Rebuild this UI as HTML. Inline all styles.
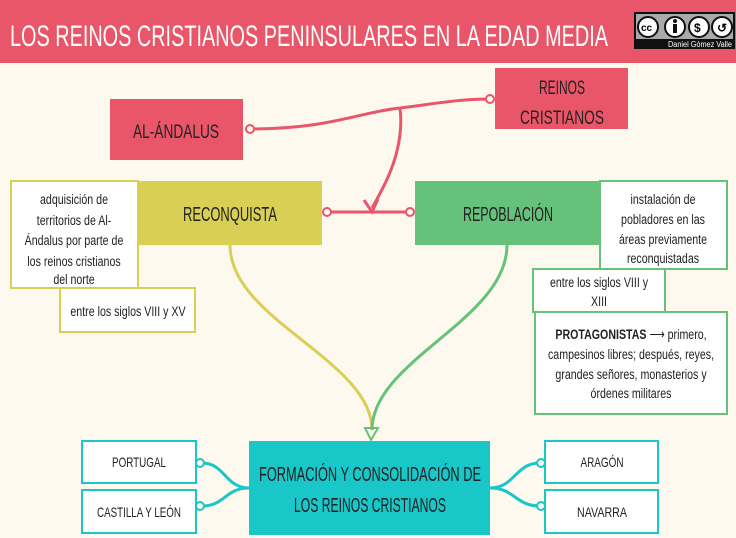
<!DOCTYPE html>
<html><head><meta charset="utf-8"><style>
body{margin:0;background:#fdf9ee}
svg{display:block}
text{font-family:"Liberation Sans Narrow","Liberation Sans",sans-serif}
</style></head><body>
<svg width="736" height="538" viewBox="0 0 736 538" xmlns="http://www.w3.org/2000/svg">
<rect width="736" height="538" fill="#fdf9ee"/>
<rect width="736" height="63" fill="#ea5669"/>
<text x="10" y="46" fill="#fff" font-size="30" textLength="598" lengthAdjust="spacingAndGlyphs">LOS REINOS CRISTIANOS PENINSULARES EN LA EDAD MEDIA</text>
<rect x="634" y="12" width="101" height="37" fill="#111"/>
<rect x="636" y="14" width="97" height="25" fill="#aaa"/>
<circle cx="648" cy="27" r="10" fill="#fff" stroke="#111" stroke-width="2"/><text x="641" y="31" font-size="10" font-weight="bold">cc</text>
<circle cx="675" cy="27" r="10" fill="#fff" stroke="#111" stroke-width="2"/><circle cx="675" cy="21" r="2" fill="#111"/><rect x="673" y="24" width="4" height="9" fill="#111"/>
<circle cx="699" cy="27" r="10" fill="#fff" stroke="#111" stroke-width="2"/><text x="694" y="32" font-size="12" font-weight="bold">$</text>
<circle cx="722" cy="27" r="10" fill="#fff" stroke="#111" stroke-width="2"/><text x="717" y="32" font-size="12" font-weight="bold">↺</text>
<text x="668" y="47" fill="#fff" font-size="8" textLength="64" lengthAdjust="spacingAndGlyphs">Daniel Gómez Valle</text>

<g fill="none" stroke-width="3">
<path d="M249 129 C330 129 360 112 400 108 C440 103 460 99 490 99" stroke="#ea5669"/>
<path d="M400 108 C405 150 385 185 372 208" stroke="#ea5669"/>
<path d="M327 212 H410" stroke="#ea5669"/>
<path d="M230 245 C230 320 372 360 372 430" stroke="#d9cf55"/>
<path d="M507 245 C507 320 372 360 372 430" stroke="#66c27a"/>
<path d="M202 463 C225 463 225 488 249 488 M202 506 C225 506 225 488 249 488" stroke="#19c6c8"/>
<path d="M540 463 C515 463 515 488 490 488 M540 506 C515 506 515 488 490 488" stroke="#19c6c8"/>
</g>
<path d="M364 200 L372 212 L378 199" fill="none" stroke="#ea5669" stroke-width="3"/>
<path d="M365 428 L378 428 L371 440 Z" fill="none" stroke="#66c27a" stroke-width="2"/>
<g fill="#fdf9ee" stroke-width="2">
<circle cx="250" cy="129" r="4" stroke="#ea5669"/><circle cx="490" cy="99" r="4" stroke="#ea5669"/>
<circle cx="327" cy="212" r="4" stroke="#ea5669"/><circle cx="410" cy="212" r="4" stroke="#ea5669"/>
<circle cx="200" cy="463" r="4" stroke="#19c6c8"/><circle cx="200" cy="506" r="4" stroke="#19c6c8"/>
<circle cx="541" cy="463" r="4" stroke="#19c6c8"/><circle cx="541" cy="506" r="4" stroke="#19c6c8"/>
</g>

<rect x="110" y="99" width="133" height="61" fill="#ea5669"/>
<text x="176" y="138" font-size="19" text-anchor="middle" fill="#222" textLength="86" lengthAdjust="spacingAndGlyphs">AL-ÁNDALUS</text>
<rect x="495" y="68" width="133" height="61" fill="#ea5669"/>
<text x="562" y="94" font-size="19" text-anchor="middle" fill="#222" textLength="46" lengthAdjust="spacingAndGlyphs">REINOS</text>
<text x="562" y="124" font-size="19" text-anchor="middle" fill="#222" textLength="84" lengthAdjust="spacingAndGlyphs">CRISTIANOS</text>

<rect x="138" y="181" width="184" height="64" fill="#d9cf55"/>
<text x="230" y="221" font-size="20" text-anchor="middle" fill="#222" textLength="94" lengthAdjust="spacingAndGlyphs">RECONQUISTA</text>
<rect x="415" y="181" width="185" height="64" fill="#66c27a"/>
<text x="508" y="221" font-size="20" text-anchor="middle" fill="#222" textLength="90" lengthAdjust="spacingAndGlyphs">REPOBLACIÓN</text>

<g fill="#fff" stroke-width="2">
<rect x="11" y="181" width="127" height="107" stroke="#d9cf55"/>
<rect x="60" y="288" width="135" height="44" stroke="#d9cf55"/>
<rect x="600" y="181" width="127" height="88" stroke="#66c27a"/>
<rect x="533" y="269" width="132" height="43" stroke="#66c27a"/>
<rect x="535" y="312" width="192" height="102" stroke="#66c27a"/>
<rect x="82" y="441" width="114" height="42" stroke="#19c6c8"/>
<rect x="82" y="490" width="114" height="43" stroke="#19c6c8"/>
<rect x="545" y="441" width="113" height="42" stroke="#19c6c8"/>
<rect x="545" y="490" width="113" height="43" stroke="#19c6c8"/>
</g>

<g font-size="14" fill="#222" text-anchor="middle">
<g transform="translate(74,0) scale(0.76,1)">
<text x="0" y="204">adquisición de</text>
<text x="0" y="225">territorios de Al-</text>
<text x="0" y="245">Ándalus por parte de</text>
<text x="0" y="266">los reinos cristianos</text>
<text x="0" y="286" dy="-2">del norte</text>
</g>
<g transform="translate(128,0) scale(0.76,1)"><text x="0" y="316">entre los siglos VIII y XV</text></g>
<g transform="translate(663,0) scale(0.76,1)">
<text x="0" y="204">instalación de</text>
<text x="0" y="224">pobladores en las</text>
<text x="0" y="244">áreas previamente</text>
<text x="0" y="263">reconquistadas</text>
</g>
<g transform="translate(599,0) scale(0.76,1)">
<text x="0" y="287">entre los siglos VIII y</text>
<text x="0" y="306">XIII</text>
</g>
<g transform="translate(631,0) scale(0.76,1)">
<text x="0" y="339"><tspan font-weight="bold">PROTAGONISTAS</tspan> ⟶ primero,</text>
<text x="0" y="359">campesinos libres; después, reyes,</text>
<text x="0" y="379">grandes señores, monasterios y</text>
<text x="0" y="398">órdenes militares</text>
</g>
</g>

<rect x="249" y="441" width="241" height="94" fill="#19c6c8"/>
<text x="370" y="481" font-size="20" text-anchor="middle" fill="#222" textLength="222" lengthAdjust="spacingAndGlyphs">FORMACIÓN Y CONSOLIDACIÓN DE</text>
<text x="370" y="512" font-size="20" text-anchor="middle" fill="#222" textLength="152" lengthAdjust="spacingAndGlyphs">LOS REINOS CRISTIANOS</text>

<g font-size="14" fill="#222" text-anchor="middle">
<text x="139" y="467" textLength="54" lengthAdjust="spacingAndGlyphs">PORTUGAL</text>
<text x="139" y="517" textLength="84" lengthAdjust="spacingAndGlyphs">CASTILLA Y LEÓN</text>
<text x="602" y="467" textLength="43" lengthAdjust="spacingAndGlyphs">ARAGÓN</text>
<text x="602" y="517" textLength="50" lengthAdjust="spacingAndGlyphs">NAVARRA</text>
</g>
</svg>
</body></html>
